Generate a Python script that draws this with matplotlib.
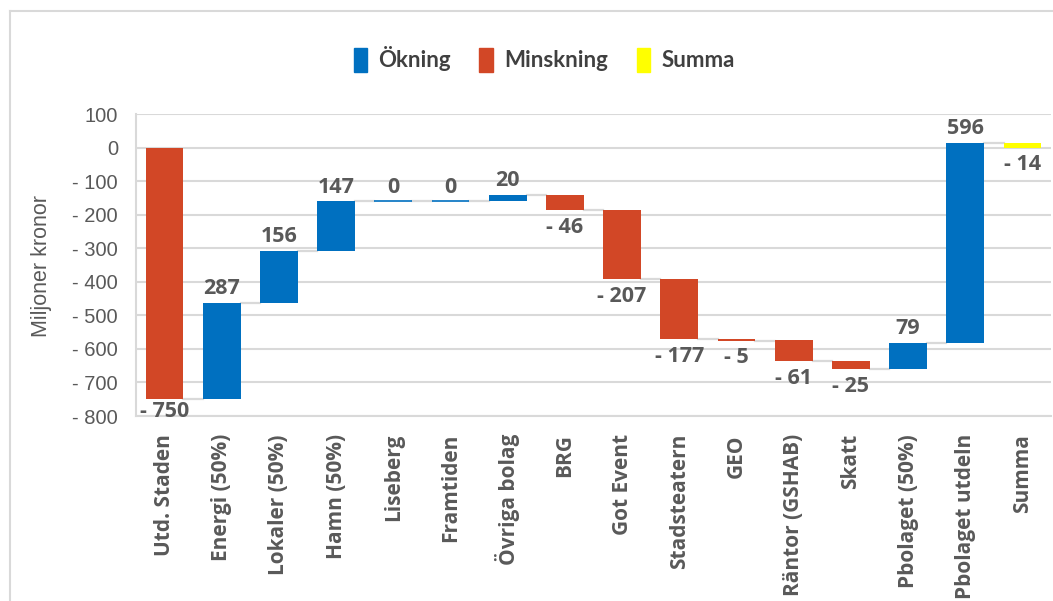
import matplotlib
matplotlib.use('Agg')
import matplotlib.pyplot as plt
from matplotlib.patches import Patch
from matplotlib.lines import Line2D

categories = ['Utd. Staden', 'Energi (50%)', 'Lokaler (50%)', 'Hamn (50%)', 'Liseberg',
              'Framtiden', 'Övriga bolag', 'BRG', 'Got Event', 'Stadsteatern', 'GEO',
              'Räntor (GSHAB)', 'Skatt', 'Pbolaget (50%)', 'Pbolaget utdeln', 'Summa']
changes = [-750, 287, 156, 147, 0, 0, 20, -46, -207, -177, -5, -61, -25, 79, 596]
summa = 14
value_labels = ['- 750', '287', '156', '147', '0', '0', '20', '- 46', '- 207', '- 177',
                '- 5', '- 61', '- 25', '79', '596', '- 14']
yticks = list(range(-800, 101, 100))

BLUE = '#0070C0'
RED = '#D24726'
YELLOW = '#FFFF00'
GRAY = '#595959'

fig = plt.figure(figsize=(10.53, 6.01), dpi=100)
ax = fig.add_axes([136/1053, 1 - 416/601, 915/1053, 302/601])

# build waterfall
bottoms, heights, colors = [], [], []
level = 0
for v in changes:
    if v >= 0:
        bottoms.append(level)
        heights.append(v)
        colors.append(BLUE)
    else:
        bottoms.append(level + v)
        heights.append(-v)
        colors.append(RED)
    level += v
bottoms.append(0)
heights.append(summa)
colors.append(YELLOW)

x = list(range(len(categories)))
w = 0.66
ax.bar(x, heights, bottom=bottoms, width=w, color=colors, zorder=3,
       edgecolor=colors, linewidth=[1.2 if h == 0 else 0 for h in heights])

# connectors
level = 0
for i, v in enumerate(changes):
    level += v
    ax.plot([i + w/2, i + 1 - w/2], [level, level], color='#d9d9d9', lw=1.6, zorder=2)

# value labels
for i, lab in enumerate(value_labels):
    up = i < len(changes) and changes[i] >= 0
    if up:
        ax.annotate(lab, (i, bottoms[i] + heights[i]), xytext=(0, 2.5),
                    textcoords='offset points', ha='center', va='bottom', fontsize=15.5,
                    fontweight='bold', color=GRAY, family='Open Sans', zorder=4)
    else:
        off = -1 if i == 0 else -5
        ax.annotate(lab, (i, bottoms[i]), xytext=(0, off),
                    textcoords='offset points', ha='center', va='top', fontsize=15.5,
                    fontweight='bold', color=GRAY, family='Open Sans', zorder=4)

ax.set_xlim(-0.5, len(categories) - 0.5)
ax.set_ylim(-800, 100)
ax.set_yticks(yticks)
ax.set_yticklabels([('- %d' % -t) if t < 0 else str(t) for t in yticks],
                   fontsize=14.5, color=GRAY, family='Liberation Sans')
ax.set_xticks(x)
ax.set_xticklabels(categories, rotation=90, fontsize=15, fontweight='bold', color=GRAY,
                   family='Open Sans')
ax.tick_params(axis='both', length=0)
ax.tick_params(axis='y', pad=13)
ax.tick_params(axis='x', pad=13)
ax.grid(axis='y', color='#d9d9d9', lw=1.5, zorder=0)
ax.set_axisbelow(True)
for s in ['top', 'right']:
    ax.spines[s].set_visible(False)
for s in ['left', 'bottom']:
    ax.spines[s].set_color('#d9d9d9')
    ax.spines[s].set_linewidth(1.5)

fig.text(42/1053, 1 - 266/601, 'Miljoner kronor', rotation=90, ha='center', va='center',
         fontsize=15.5, color=GRAY, family='Liberation Sans')

handles = [Patch(color=BLUE, label='Ökning'), Patch(color=RED, label='Minskning'),
           Patch(color=YELLOW, label='Summa')]
fig.legend(handles=handles, loc='center', bbox_to_anchor=(544/1053, 1 - 59/601), ncol=3,
           frameon=False, handlelength=0.6, handleheight=1.3, handletextpad=0.5,
           columnspacing=1.3, prop={'family': 'Lato', 'size': 16, 'weight': 'bold'},
           labelcolor='#404040')

# chart frame
fig.add_artist(Line2D([10/1053, 1], [1 - 11/601, 1 - 11/601], color='#d9d9d9', lw=1.5))
fig.add_artist(Line2D([10/1053, 10/1053], [0, 1 - 11/601], color='#d9d9d9', lw=1.5))

fig.savefig('out.png', dpi=100)
